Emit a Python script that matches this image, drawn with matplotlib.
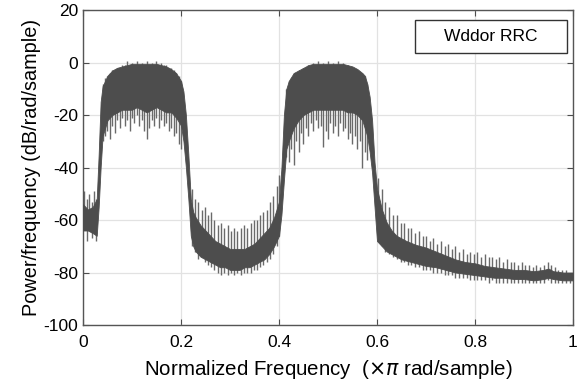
import matplotlib
matplotlib.use("Agg")
import matplotlib.pyplot as plt
from matplotlib.patches import Rectangle

plt.rcParams['font.family'] = ['Liberation Sans', 'DejaVu Sans']
plt.rcParams['axes.unicode_minus'] = False

# dense band of the PSD trace: frequency (x pi rad/sample), top and bottom (dB/rad/sample)
band_f = [0.0, 0.01, 0.02, 0.028, 0.032, 0.036, 0.04, 0.05, 0.06, 0.07, 0.08, 0.09,
          0.10, 0.11, 0.12, 0.13, 0.14, 0.15, 0.16, 0.17, 0.18, 0.19, 0.20, 0.205,
          0.21, 0.215, 0.22, 0.225, 0.23, 0.24, 0.25, 0.26, 0.27, 0.28, 0.29, 0.30,
          0.31, 0.32, 0.33, 0.34, 0.35, 0.36, 0.37, 0.38, 0.39, 0.40, 0.405, 0.41,
          0.415, 0.42, 0.43, 0.44, 0.45, 0.46, 0.47, 0.48, 0.49, 0.50, 0.51, 0.52,
          0.53, 0.54, 0.55, 0.56, 0.57, 0.575, 0.58, 0.585, 0.59, 0.595, 0.60, 0.61,
          0.62, 0.63, 0.64, 0.65, 0.66, 0.68, 0.70, 0.72, 0.74, 0.76, 0.78, 0.80,
          0.82, 0.84, 0.86, 0.88, 0.90, 0.92, 0.94, 0.95, 0.96, 0.98, 1.0]
band_top = [-54, -56, -55, -52, -35, -15, -9, -5, -3, -2, -1.5, -1,
            -0.5, -0.5, -0.5, -0.5, -0.5, -0.5, -1, -1.5, -2.5, -4, -7, -11,
            -20, -35, -52, -57, -59, -62, -64, -66, -68, -69, -70, -71,
            -71, -71, -71, -70, -69, -67, -65, -63, -59, -53, -40, -20,
            -10, -7, -4, -3, -2, -1, -0.5, -0.5, -0.5, -0.5, -0.5, -0.5,
            -0.5, -1, -1.5, -2.5, -4, -5, -8, -13, -22, -38, -48, -56,
            -61, -64, -66, -67, -68, -69.5, -70.5, -72, -73.5, -75, -76, -76.5,
            -77.5, -78, -78.5, -79, -79, -79.5, -79, -78.5, -79.5, -80, -80]
band_bot = [-64, -64, -65, -66, -55, -40, -28, -22, -20, -19, -18, -18,
            -18, -17, -18, -19, -18, -17, -18, -19, -19, -21, -24, -30,
            -40, -52, -66, -70, -72, -74, -75, -76, -77, -78, -78, -79,
            -79, -79, -78, -78, -77, -76, -75, -73, -70, -66, -58, -45,
            -33, -30, -25, -22, -20, -19, -18, -18, -18, -18, -18, -18,
            -18, -19, -19, -20, -22, -25, -28, -34, -42, -55, -68, -70,
            -72, -73, -74, -75, -75.5, -76.5, -77.5, -78, -79, -80, -80.5, -81,
            -81.5, -82, -82, -82.5, -82.5, -83, -82.5, -82, -82.5, -83, -83]

# spikes that stick out of the band: frequency, upper and lower end
spike_f = [0.003, 0.008, 0.013, 0.018, 0.023, 0.027,
           0.040, 0.045, 0.050, 0.055, 0.060, 0.065, 0.070, 0.075, 0.080, 0.085,
           0.090, 0.095, 0.100, 0.105, 0.110, 0.115, 0.120, 0.125, 0.130, 0.135,
           0.140, 0.145, 0.150, 0.155, 0.160, 0.165, 0.170, 0.175, 0.180, 0.185,
           0.190, 0.195, 0.200,
           0.222, 0.228, 0.235, 0.242, 0.248, 0.255, 0.262, 0.268, 0.275, 0.282,
           0.288, 0.295, 0.302, 0.308, 0.315, 0.322, 0.328, 0.335, 0.342, 0.348,
           0.355, 0.362, 0.368, 0.375, 0.382, 0.388, 0.395, 0.400,
           0.415, 0.420, 0.425, 0.430, 0.435, 0.440, 0.445, 0.450, 0.455, 0.460,
           0.465, 0.470, 0.475, 0.480, 0.485, 0.490, 0.495, 0.500, 0.505, 0.510,
           0.515, 0.520, 0.525, 0.530, 0.535, 0.540, 0.545, 0.550, 0.555, 0.560,
           0.565, 0.570, 0.575, 0.580,
           0.603, 0.610, 0.617, 0.625, 0.633, 0.640, 0.648, 0.655, 0.663, 0.670,
           0.678, 0.685, 0.693, 0.700, 0.708, 0.715, 0.723, 0.730, 0.738, 0.745,
           0.753, 0.760, 0.768, 0.775, 0.783, 0.790, 0.798, 0.805, 0.813, 0.820,
           0.828, 0.835, 0.843, 0.850, 0.858, 0.865, 0.873, 0.880, 0.888, 0.895,
           0.903, 0.910, 0.918, 0.925, 0.933, 0.940, 0.948, 0.955, 0.963, 0.970,
           0.978, 0.985, 0.993]
spike_hi = [-49, -52, -50, -53, -49, -52,
            -8, -6, -5, -4, -3, -3, -2, -2, -1, -1,
            0.5, -1, 0, -1, 0.5, -1, 0, -1, 0.5, -1,
            0, -1, 0.5, -1, 0, -1, -1, -2, -2, -3,
            -4, -5, -7,
            -48, -52, -53, -56, -55, -58, -57, -60, -62, -61,
            -63, -62, -64, -63, -64, -63, -62, -63, -61, -60,
            -60, -58, -57, -56, -53, -51, -47, -43,
            -10, -7, -6, -4, -4, -3, -3, -2, -2, -1,
            -1, 0, -1, 0.5, -1, 0, -1, 0.5, -1, 0,
            -1, 0.5, -1, 0, -1, -1, -2, -2, -3, -3,
            -4, -4, -5, -8,
            -44, -48, -53, -55, -58, -58, -61, -61, -63, -63,
            -65, -64, -66, -66, -68, -67, -69, -68, -70, -69,
            -71, -70, -72, -71, -73, -72, -73, -72, -74, -73,
            -74, -74, -75, -74, -76, -75, -76, -76, -77, -76,
            -77, -77, -78, -77, -78, -77, -76, -77, -78, -79,
            -79, -79, -80]
spike_lo = [-60, -68, -62, -67, -62, -68,
            -30, -28, -26, -29, -24, -27, -22, -25, -21, -24,
            -22, -26, -21, -23, -20, -24, -22, -26, -29, -25,
            -22, -24, -21, -25, -22, -24, -23, -26, -25, -28,
            -27, -31, -33,
            -70, -72, -75, -74, -76, -77, -78, -79, -80, -81,
            -80, -81, -80, -81, -80, -81, -80, -80, -80, -79,
            -79, -78, -77, -76, -75, -73, -70, -66,
            -36, -38, -33, -39, -30, -34, -27, -31, -25, -28,
            -23, -26, -22, -25, -24, -32, -26, -29, -23, -27,
            -24, -28, -23, -26, -25, -29, -27, -31, -28, -33,
            -30, -40, -34, -37,
            -68, -70, -72, -73, -74, -75, -76, -76, -77, -77,
            -78, -78, -79, -79, -79, -80, -80, -80, -81, -81,
            -81, -82, -82, -82, -82, -83, -83, -83, -83, -83,
            -84, -83, -84, -84, -84, -84, -84, -84, -84, -84,
            -84, -84, -84, -84, -84, -84, -83, -84, -84, -84,
            -84, -84, -84]

fig = plt.figure(figsize=(5.8, 3.91), dpi=100)
ax = fig.add_axes([0.1431, 0.1688, 0.8448, 0.8056])

trace = '#4d4d4d'
ax.vlines(spike_f, spike_lo, spike_hi, color='#6a6a6a', lw=1.0, zorder=2)
ax.fill_between(band_f, band_bot, band_top, color=trace, lw=0.6, edgecolor=trace, zorder=3)

ax.set_xlim(0, 1)
ax.set_ylim(-100, 20)
ax.set_xticks([0, 0.2, 0.4, 0.6, 0.8, 1])
ax.set_xticklabels(['0', '0.2', '0.4', '0.6', '0.8', '1'])
ax.set_yticks([-100, -80, -60, -40, -20, 0, 20])
ax.grid(True, color='#e2e2e2', lw=0.9)
ax.set_axisbelow(True)
ax.tick_params(direction='in', top=True, right=True, length=4, width=0.8,
               color='#4d4d4d', labelsize=12.5)
ax.tick_params(axis='x', pad=7)
for s in ax.spines.values():
    s.set_color('#555555')
    s.set_linewidth(1.0)

ax.set_xlabel('Normalized Frequency  ($\\times\\pi$ rad/sample)', fontsize=14.8, labelpad=6)
ax.set_ylabel('Power/frequency (dB/rad/sample)', fontsize=14.3, labelpad=2)

# legend box (text only, as in the reference)
ax.add_patch(Rectangle((0.678, 0.863), 0.31, 0.105, transform=ax.transAxes,
                       fc='white', ec='#333333', lw=1.0, zorder=5))
ax.text(0.833, 0.915, 'Wddor RRC', transform=ax.transAxes, ha='center', va='center',
        fontsize=12.5, zorder=6)

fig.savefig('out.png', dpi=100)
